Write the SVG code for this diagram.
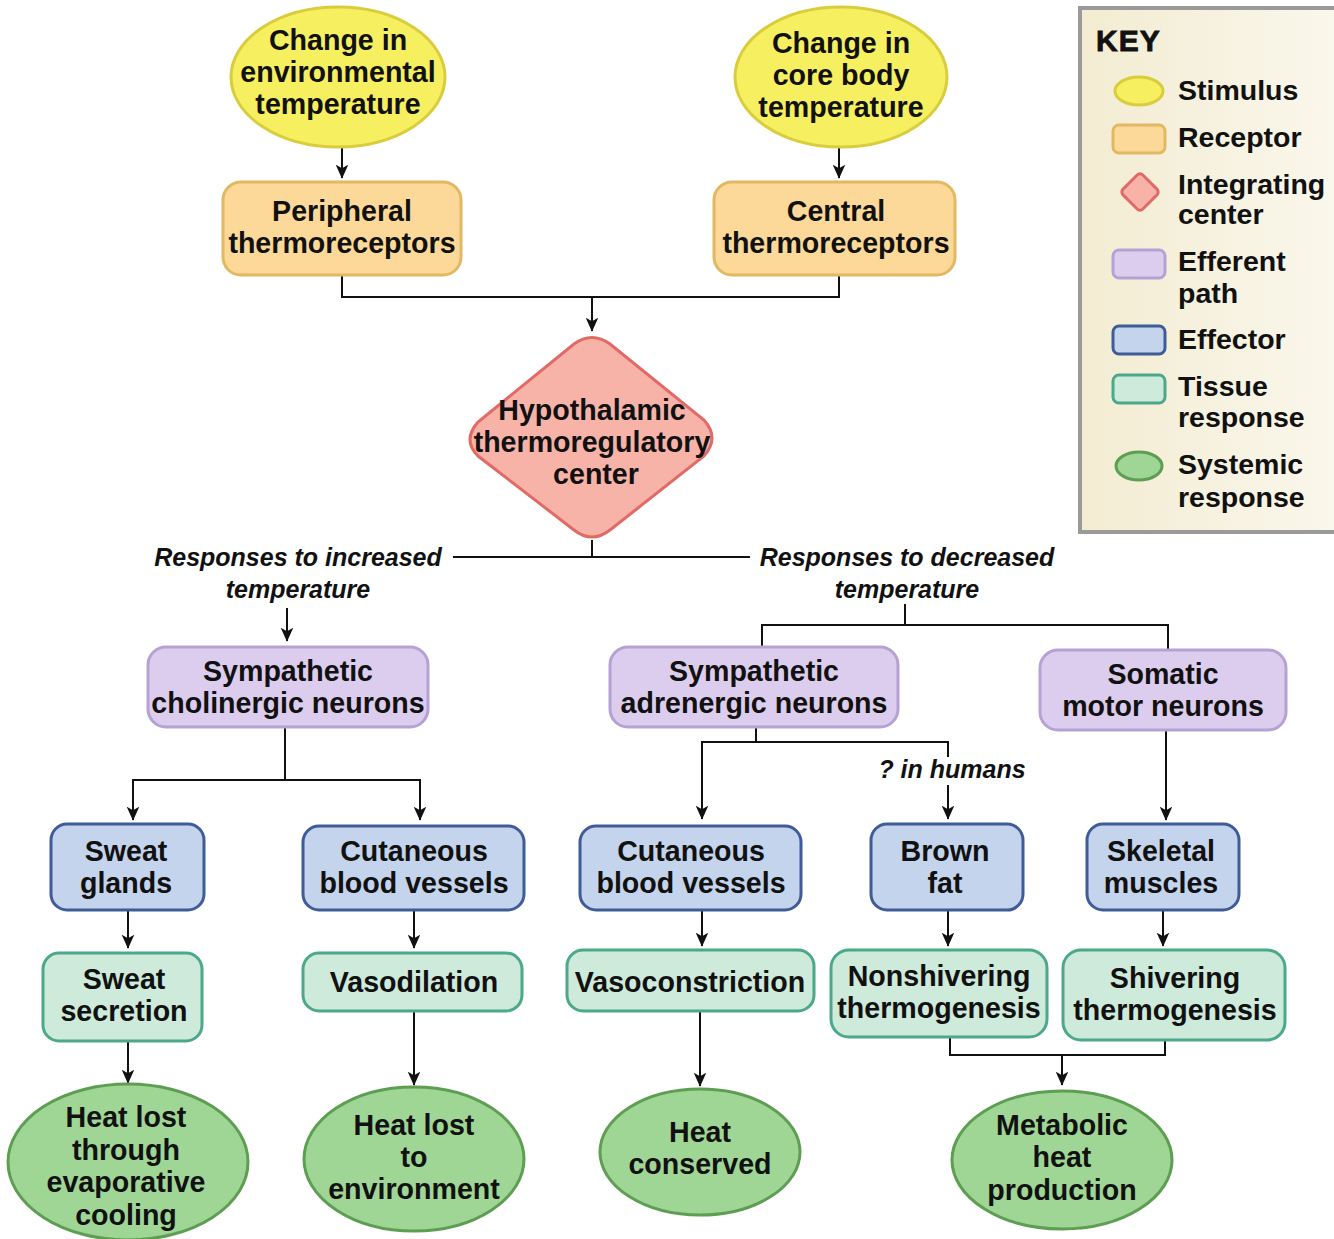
<svg xmlns="http://www.w3.org/2000/svg" width="1334" height="1239" viewBox="0 0 1334 1239">
<defs>
<style>
text{font-family:"Liberation Sans",Arial,sans-serif;font-weight:bold;fill:#111;}
.t{font-size:28.6px;text-anchor:middle;}
.k{font-size:28.5px;}
.i{font-size:25px;font-style:italic;text-anchor:middle;}
.stim{fill:#f6ef60;stroke:#d9cd3e;stroke-width:3;}
.rec{fill:#fcd998;stroke:#e2b862;stroke-width:3;}
.int{fill:#f8b3a9;stroke:#e26a66;stroke-width:3;}
.eff{fill:#dccdee;stroke:#b6a1d5;stroke-width:3;}
.efc{fill:#c4d4ec;stroke:#3f5b98;stroke-width:3;}
.tis{fill:#cdeadb;stroke:#4ba88b;stroke-width:3;}
.sys{fill:#9fd696;stroke:#5d9e52;stroke-width:3;}
.c{fill:none;stroke:#111;stroke-width:2;}
</style>
<marker id="ah" viewBox="0 0 10 10" refX="9.5" refY="5" markerWidth="14" markerHeight="14" orient="auto" markerUnits="userSpaceOnUse">
<path d="M0,0.5 L10,5 L0,9.5 L2.5,5 Z" fill="#111"/>
</marker>
<linearGradient id="kg" x1="0" y1="0" x2="1" y2="0">
<stop offset="0" stop-color="#f3ecd2"/>
<stop offset="1" stop-color="#faf7ec"/>
</linearGradient>
</defs>
<rect width="1334" height="1239" fill="#ffffff"/>

<g id="key">
<rect x="1080" y="8" width="256" height="524" fill="url(#kg)" stroke="#9a9a9a" stroke-width="4"/>
<text x="1096" y="51" style="font-size:30px;font-weight:900;letter-spacing:1px;stroke:#111;stroke-width:0.8px;">KEY</text>
<ellipse cx="1139" cy="91" rx="24" ry="14" class="stim" stroke-width="2"/>
<text class="k" x="1178" y="100">Stimulus</text>
<rect x="1113" y="125" width="52" height="28" rx="6" class="rec" stroke-width="2"/>
<text class="k" x="1178" y="147">Receptor</text>
<rect x="1126" y="178" width="28" height="28" rx="4" class="int" stroke-width="2" transform="rotate(45 1140 192)"/>
<text class="k" x="1178" y="194">Integrating</text>
<text class="k" x="1178" y="224">center</text>
<rect x="1113" y="250" width="52" height="28" rx="6" class="eff" stroke-width="2"/>
<text class="k" x="1178" y="271">Efferent</text>
<text class="k" x="1178" y="303">path</text>
<rect x="1113" y="326" width="52" height="28" rx="6" class="efc" stroke-width="2"/>
<text class="k" x="1178" y="349">Effector</text>
<rect x="1113" y="375" width="52" height="28" rx="6" class="tis" stroke-width="2"/>
<text class="k" x="1178" y="396">Tissue</text>
<text class="k" x="1178" y="427">response</text>
<ellipse cx="1139" cy="466" rx="23" ry="14" class="sys" stroke-width="2"/>
<text class="k" x="1178" y="474">Systemic</text>
<text class="k" x="1178" y="507">response</text>
</g>

<g id="connectors">
<path class="c" d="M342,148 V178" marker-end="url(#ah)"/>
<path class="c" d="M839,148 V178" marker-end="url(#ah)"/>
<path class="c" d="M342,275 V297 H839 V275"/>
<path class="c" d="M592,297 V331" marker-end="url(#ah)"/>
<path class="c" d="M592,540 V557"/>
<path class="c" d="M453,557 H750"/>
<path class="c" d="M287,608 V641" marker-end="url(#ah)"/>
<path class="c" d="M905,604 V625 M762,648 V625 H1168 V650"/>
<path class="c" d="M285,727 V780 H133 V820" marker-end="url(#ah)"/>
<path class="c" d="M285,780 H420 V820" marker-end="url(#ah)"/>
<path class="c" d="M756,727 V742 H702 V819" marker-end="url(#ah)"/>
<path class="c" d="M756,742 H948 V757"/>
<path class="c" d="M948,785 V819" marker-end="url(#ah)"/>
<path class="c" d="M1166,730 V820" marker-end="url(#ah)"/>
<path class="c" d="M128,910 V948" marker-end="url(#ah)"/>
<path class="c" d="M414,910 V948" marker-end="url(#ah)"/>
<path class="c" d="M702,910 V946" marker-end="url(#ah)"/>
<path class="c" d="M948,910 V946" marker-end="url(#ah)"/>
<path class="c" d="M1163,910 V946" marker-end="url(#ah)"/>
<path class="c" d="M128,1041 V1083" marker-end="url(#ah)"/>
<path class="c" d="M414,1011 V1085" marker-end="url(#ah)"/>
<path class="c" d="M700,1011 V1086" marker-end="url(#ah)"/>
<path class="c" d="M950,1037 V1055 H1165 V1040"/>
<path class="c" d="M1062,1055 V1085" marker-end="url(#ah)"/>
<text class="i" x="298" y="566">Responses to increased</text>
<text class="i" x="298" y="598">temperature</text>
<text class="i" x="907" y="566">Responses to decreased</text>
<text class="i" x="907" y="598">temperature</text>
<text class="i" x="952" y="778">? in humans</text>
</g>

<g id="stim-env">
<ellipse cx="338" cy="77" rx="107" ry="70" class="stim"/>
<text class="t" x="338" y="50">Change in</text>
<text class="t" x="338" y="82">environmental</text>
<text class="t" x="338" y="114">temperature</text>
</g>
<g id="stim-core">
<ellipse cx="841" cy="77" rx="106" ry="70" class="stim"/>
<text class="t" x="841" y="53">Change in</text>
<text class="t" x="841" y="85">core body</text>
<text class="t" x="841" y="117">temperature</text>
</g>
<g id="rec-peripheral">
<rect x="223" y="182" width="238" height="93" rx="18" class="rec"/>
<text class="t" x="342" y="221">Peripheral</text>
<text class="t" x="342" y="253">thermoreceptors</text>
</g>
<g id="rec-central">
<rect x="714" y="182" width="241" height="93" rx="18" class="rec"/>
<text class="t" x="836" y="221">Central</text>
<text class="t" x="836" y="253">thermoreceptors</text>
</g>
<g id="hypothalamus">
<path class="int" d="M574,344 Q592,331 610,344 L704,420 Q720,438 704,456 L610,530 Q592,544 574,530 L478,456 Q462,440 478,422 Z"/>
<text class="t" x="592" y="420">Hypothalamic</text>
<text class="t" x="592" y="452">thermoregulatory</text>
<text class="t" x="596" y="484">center</text>
</g>
<g id="symp-chol">
<rect x="148" y="647" width="280" height="80" rx="18" class="eff"/>
<text class="t" x="288" y="681">Sympathetic</text>
<text class="t" x="288" y="713">cholinergic neurons</text>
</g>
<g id="symp-adr">
<rect x="610" y="647" width="288" height="80" rx="18" class="eff"/>
<text class="t" x="754" y="681">Sympathetic</text>
<text class="t" x="754" y="713">adrenergic neurons</text>
</g>
<g id="somatic">
<rect x="1040" y="650" width="246" height="80" rx="18" class="eff"/>
<text class="t" x="1163" y="684">Somatic</text>
<text class="t" x="1163" y="716">motor neurons</text>
</g>
<g id="sweat-glands">
<rect x="51" y="824" width="153" height="86" rx="16" class="efc"/>
<text class="t" x="126" y="861">Sweat</text>
<text class="t" x="126" y="893">glands</text>
</g>
<g id="cut-vessels-1">
<rect x="303" y="826" width="221" height="84" rx="16" class="efc"/>
<text class="t" x="414" y="861">Cutaneous</text>
<text class="t" x="414" y="893">blood vessels</text>
</g>
<g id="cut-vessels-2">
<rect x="580" y="826" width="221" height="84" rx="16" class="efc"/>
<text class="t" x="691" y="861">Cutaneous</text>
<text class="t" x="691" y="893">blood vessels</text>
</g>
<g id="brown-fat">
<rect x="871" y="824" width="152" height="86" rx="16" class="efc"/>
<text class="t" x="945" y="861">Brown</text>
<text class="t" x="945" y="893">fat</text>
</g>
<g id="skeletal">
<rect x="1087" y="824" width="152" height="86" rx="16" class="efc"/>
<text class="t" x="1161" y="861">Skeletal</text>
<text class="t" x="1161" y="893">muscles</text>
</g>
<g id="sweat-secretion">
<rect x="43" y="953" width="159" height="88" rx="16" class="tis"/>
<text class="t" x="124" y="989">Sweat</text>
<text class="t" x="124" y="1021">secretion</text>
</g>
<g id="vasodilation">
<rect x="303" y="953" width="219" height="58" rx="16" class="tis"/>
<text class="t" x="414" y="992">Vasodilation</text>
</g>
<g id="vasoconstriction">
<rect x="567" y="950" width="247" height="61" rx="16" class="tis"/>
<text class="t" x="690" y="992">Vasoconstriction</text>
</g>
<g id="nonshivering">
<rect x="831" y="950" width="216" height="87" rx="18" class="tis"/>
<text class="t" x="939" y="986">Nonshivering</text>
<text class="t" x="939" y="1018">thermogenesis</text>
</g>
<g id="shivering">
<rect x="1063" y="950" width="222" height="90" rx="18" class="tis"/>
<text class="t" x="1175" y="988">Shivering</text>
<text class="t" x="1175" y="1020">thermogenesis</text>
</g>
<g id="heat-evap">
<ellipse cx="128" cy="1162" rx="120" ry="78" class="sys"/>
<text class="t" x="126" y="1127">Heat lost</text>
<text class="t" x="126" y="1160">through</text>
<text class="t" x="126" y="1192">evaporative</text>
<text class="t" x="126" y="1225">cooling</text>
</g>
<g id="heat-env">
<ellipse cx="414" cy="1159" rx="110" ry="72" class="sys"/>
<text class="t" x="414" y="1135">Heat lost</text>
<text class="t" x="414" y="1167">to</text>
<text class="t" x="414" y="1199">environment</text>
</g>
<g id="heat-conserved">
<ellipse cx="700" cy="1152" rx="100" ry="63" class="sys"/>
<text class="t" x="700" y="1142">Heat</text>
<text class="t" x="700" y="1174">conserved</text>
</g>
<g id="metabolic">
<ellipse cx="1062" cy="1160" rx="110" ry="69" class="sys"/>
<text class="t" x="1062" y="1135">Metabolic</text>
<text class="t" x="1062" y="1167">heat</text>
<text class="t" x="1062" y="1200">production</text>
</g>
</svg>
